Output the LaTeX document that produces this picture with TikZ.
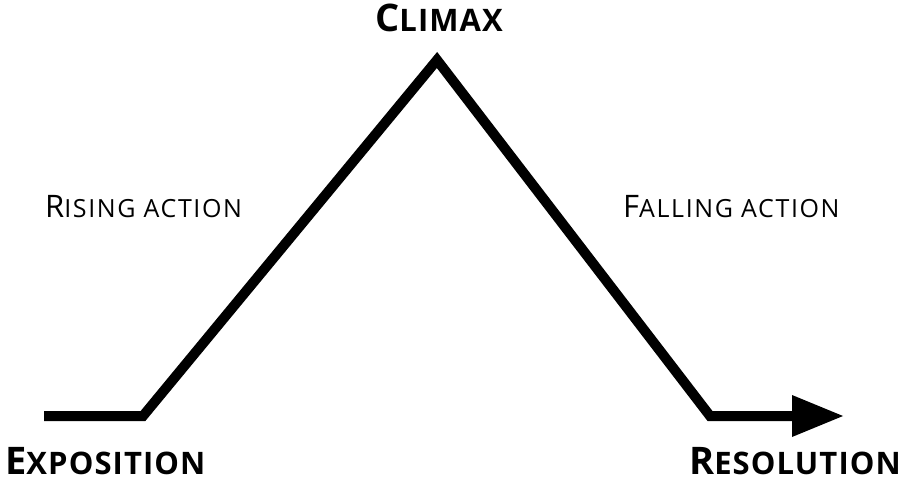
\documentclass[tikz,border=0pt]{standalone}
\usepackage{fontspec}
\setmainfont{Open Sans}
\newfontfamily\titlefont[LetterSpace=3.5]{Open Sans}
\newfontfamily\labelfont[LetterSpace=6.5]{Open Sans}
\usetikzlibrary{arrows.meta}
\newcommand\bigsc[2]{{\fontsize{38}{38}\selectfont #1}{\fontsize{31}{31}\selectfont #2}}
\newcommand\smallsc[2]{{\fontsize{31}{31}\selectfont #1}{\fontsize{25}{25}\selectfont #2}}
\tikzset{
  title/.style={inner sep=0pt, font=\titlefont\bfseries},
  label/.style={inner sep=0pt, font=\labelfont},
  plotline/.style={line width=10pt, line join=miter, miter limit=20}
}
\begin{document}
\begin{tikzpicture}[x=1pt,y=-1pt]
\useasboundingbox (0,0) rectangle (904,481);
\coordinate (start) at (44,416);
\coordinate (c1) at (143,416);
\coordinate (apex) at (437,60);
\coordinate (c2) at (710,416);
\coordinate (lineend) at (800,416);
\coordinate (tip) at (843,416);
\draw[plotline] (start) -- (c1) -- (apex) -- (c2) -- (lineend);
\fill (792,395) -- (tip) -- (792,437) -- cycle;
\node[title, anchor=base west] (expo) at (5,474) {\bigsc{E}{XPOSITION}};
\node[title, anchor=base east] (reso) at (901,474) {\bigsc{R}{ESOLUTION}};
\node[title, anchor=base] (climax) at (439,32) {\bigsc{C}{LIMAX}};
\node[label, anchor=base west] (rising) at (45,217) {\smallsc{R}{ISING ACTION}};
\node[label, anchor=base west] (falling) at (623,217) {\smallsc{F}{ALLING ACTION}};
\end{tikzpicture}
\end{document}
